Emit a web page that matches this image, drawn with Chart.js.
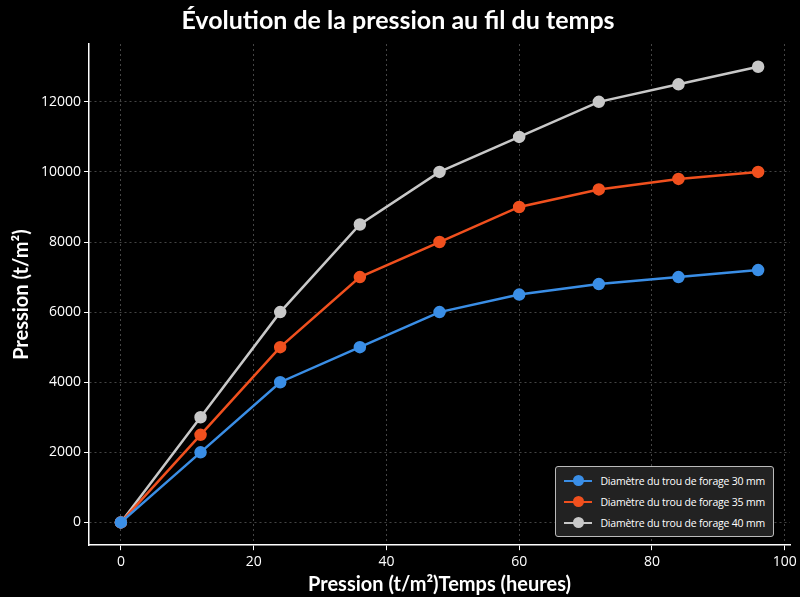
<!DOCTYPE html>
<html><head><meta charset="utf-8">
<script src="https://cdn.jsdelivr.net/npm/chart.js@4"></script>
<style>
html,body{margin:0;background:#000;}
#w{position:relative;width:800px;height:597px;}
#lg{position:absolute;right:26px;bottom:60px;background:#222;border:1px solid #bbb;border-radius:3px;padding:3px 8px;font:10.5px "Open Sans",sans-serif;letter-spacing:-0.2px;color:#fff;}
#lg div{display:flex;align-items:center;height:21px;}
#lg span.m{position:relative;width:28px;height:2px;margin-right:8px;}
#lg span.m i{position:absolute;left:9px;top:-5px;width:11px;height:11px;border-radius:50%;}
</style></head><body>
<div id="w"><canvas id="c" width="800" height="597"></canvas>
<div id="lg"></div></div>
<script>
const hours=[0,12,24,36,48,60,72,84,96];
const d30=[0,2000,4000,5000,6000,6500,6800,7000,7200];
const d35=[0,2500,5000,7000,8000,9000,9500,9800,10000];
const d40=[0,3000,6000,8500,10000,11000,12000,12500,13000];
const xTicks=[0,20,40,60,80,100];
const yTicks=[0,2000,4000,6000,8000,10000,12000];
const labels=["Diamètre du trou de forage 30 mm","Diamètre du trou de forage 35 mm","Diamètre du trou de forage 40 mm"];
const colors=["#3a8ee6","#f0501e","#c8c8c8"];
const series=[d30,d35,d40];
const lg=document.getElementById('lg');
labels.forEach((l,i)=>{lg.innerHTML+=`<div><span class="m" style="background:${colors[i]}"><i style="background:${colors[i]}"></i></span>${l}</div>`;});
Chart.defaults.font.family='"Open Sans",sans-serif';
new Chart(document.getElementById('c'),{type:'line',
data:{datasets:series.map((s,i)=>({label:labels[i],data:hours.map((h,j)=>({x:h,y:s[j]})),borderColor:colors[i],backgroundColor:colors[i],borderWidth:2.5,pointRadius:5,pointHoverRadius:5,tension:0}))},
options:{responsive:false,animation:false,devicePixelRatio:1,
layout:{padding:{left:6,right:10,top:2,bottom:0}},
plugins:{legend:{display:false},title:{display:true,text:'Évolution de la pression au fil du temps',color:'#fff',font:{size:25,weight:'bold',family:'Lato'},padding:{top:4,bottom:8}}},
scales:{
x:{type:'linear',min:-4.8,max:100.8,afterBuildTicks:a=>{a.ticks=xTicks.map(v=>({value:v}));},
ticks:{color:'#fff',font:{size:14},callback:v=>String(v)},
grid:{color:'#444',tickColor:'#fff',tickLength:5},border:{color:'#fff',width:1.5,dash:[2,3]},
title:{display:true,text:'Pression (t/m²)Temps (heures)',color:'#fff',font:{size:20,weight:'bold',family:'Lato'},padding:{top:0,bottom:0}}},
y:{min:-650,max:13650,afterBuildTicks:a=>{a.ticks=yTicks.map(v=>({value:v}));},
ticks:{color:'#fff',font:{size:14},callback:v=>String(v)},
grid:{color:'#444',tickColor:'#fff',tickLength:5},border:{color:'#fff',width:1.5,dash:[2,3]},
title:{display:true,text:'Pression (t/m²)',color:'#fff',font:{size:20,weight:'bold',family:'Lato'}}}}}});
</script></body></html>
